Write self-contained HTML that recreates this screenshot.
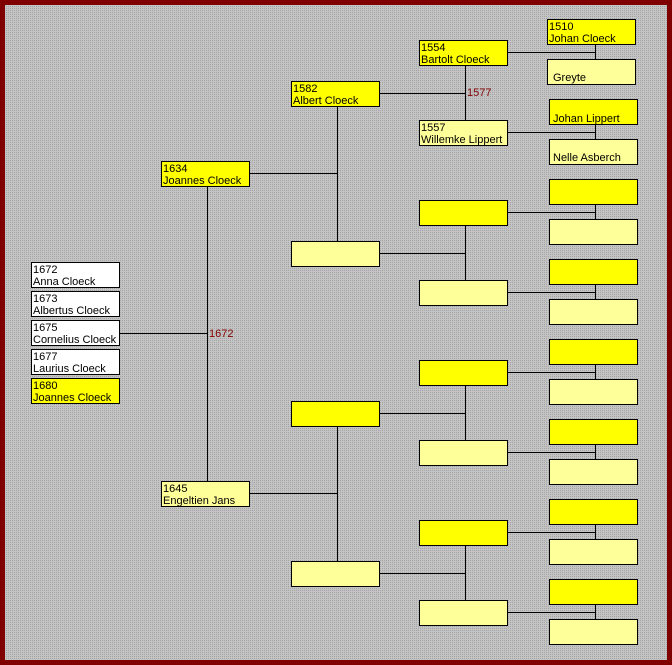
<!DOCTYPE html>
<html><head><meta charset="utf-8"><style>
html,body{margin:0;padding:0;}
body{width:672px;height:665px;overflow:hidden;}
svg{display:block;}
text{font-family:"Liberation Sans",Arial,sans-serif;font-size:11px;fill:#000;}
.r{fill:#800000;}
</style></head><body>
<svg width="672" height="665" viewBox="0 0 672 665" xmlns="http://www.w3.org/2000/svg">
<defs><pattern id="p" width="2" height="2" patternUnits="userSpaceOnUse"><rect width="2" height="2" fill="#c4c4c4"/><rect width="1" height="1" fill="#a4a4a4"/></pattern></defs>
<rect width="672" height="665" fill="#800000"/>
<rect x="5" y="5" width="662" height="655" fill="url(#p)"/>
<g stroke="#000" stroke-width="1" fill="none" shape-rendering="crispEdges">
<!-- col1-2 -->
<line x1="119" y1="333.5" x2="207.5" y2="333.5"/><line x1="207.5" y1="186" x2="207.5" y2="481"/>
<!-- col2-3 -->
<line x1="249" y1="173.5" x2="337.5" y2="173.5"/><line x1="337.5" y1="106" x2="337.5" y2="241"/>
<line x1="249" y1="493.5" x2="337.5" y2="493.5"/><line x1="337.5" y1="426" x2="337.5" y2="561"/>
<!-- col3-4 -->
<line x1="379" y1="93.5" x2="465.5" y2="93.5"/><line x1="465.5" y1="65" x2="465.5" y2="120"/>
<line x1="379" y1="253.5" x2="465.5" y2="253.5"/><line x1="465.5" y1="225" x2="465.5" y2="280"/>
<line x1="379" y1="413.5" x2="465.5" y2="413.5"/><line x1="465.5" y1="385" x2="465.5" y2="440"/>
<line x1="379" y1="573.5" x2="465.5" y2="573.5"/><line x1="465.5" y1="545" x2="465.5" y2="600"/>
<!-- col4-5 -->
<line x1="507" y1="52.5" x2="595.5" y2="52.5"/><line x1="595.5" y1="44" x2="595.5" y2="59"/>
<line x1="507" y1="132.5" x2="595.5" y2="132.5"/><line x1="595.5" y1="124" x2="595.5" y2="139"/>
<line x1="507" y1="212.5" x2="595.5" y2="212.5"/><line x1="595.5" y1="204" x2="595.5" y2="219"/>
<line x1="507" y1="292.5" x2="595.5" y2="292.5"/><line x1="595.5" y1="284" x2="595.5" y2="299"/>
<line x1="507" y1="372.5" x2="595.5" y2="372.5"/><line x1="595.5" y1="364" x2="595.5" y2="379"/>
<line x1="507" y1="452.5" x2="595.5" y2="452.5"/><line x1="595.5" y1="444" x2="595.5" y2="459"/>
<line x1="507" y1="532.5" x2="595.5" y2="532.5"/><line x1="595.5" y1="524" x2="595.5" y2="539"/>
<line x1="507" y1="612.5" x2="595.5" y2="612.5"/><line x1="595.5" y1="604" x2="595.5" y2="619"/>
</g>
<g stroke="#000" stroke-width="1" shape-rendering="crispEdges">
<!-- col1 -->
<rect x="31.5" y="262.5" width="88" height="25" fill="#fff"/>
<rect x="31.5" y="291.5" width="88" height="25" fill="#fff"/>
<rect x="31.5" y="320.5" width="88" height="25" fill="#fff"/>
<rect x="31.5" y="349.5" width="88" height="25" fill="#fff"/>
<rect x="31.5" y="378.5" width="88" height="25" fill="#ffff00"/>
<!-- col2 -->
<rect x="161.5" y="161.5" width="88" height="25" fill="#ffff00"/>
<rect x="161.5" y="481.5" width="88" height="25" fill="#ffff99"/>
<!-- col3 -->
<rect x="291.5" y="81.5" width="88" height="25" fill="#ffff00"/>
<rect x="291.5" y="241.5" width="88" height="25" fill="#ffff99"/>
<rect x="291.5" y="401.5" width="88" height="25" fill="#ffff00"/>
<rect x="291.5" y="561.5" width="88" height="25" fill="#ffff99"/>
<!-- col4 -->
<rect x="419.5" y="40.5" width="88" height="25" fill="#ffff00"/>
<rect x="419.5" y="120.5" width="88" height="25" fill="#ffff99"/>
<rect x="419.5" y="200.5" width="88" height="25" fill="#ffff00"/>
<rect x="419.5" y="280.5" width="88" height="25" fill="#ffff99"/>
<rect x="419.5" y="360.5" width="88" height="25" fill="#ffff00"/>
<rect x="419.5" y="440.5" width="88" height="25" fill="#ffff99"/>
<rect x="419.5" y="520.5" width="88" height="25" fill="#ffff00"/>
<rect x="419.5" y="600.5" width="88" height="25" fill="#ffff99"/>
<!-- col5 -->
<rect x="547.5" y="19.5" width="88" height="25" fill="#ffff00"/>
<rect x="547.5" y="59.5" width="88" height="25" fill="#ffff99"/>
<rect x="549.5" y="99.5" width="88" height="25" fill="#ffff00"/>
<rect x="549.5" y="139.5" width="88" height="25" fill="#ffff99"/>
<rect x="549.5" y="179.5" width="88" height="25" fill="#ffff00"/>
<rect x="549.5" y="219.5" width="88" height="25" fill="#ffff99"/>
<rect x="549.5" y="259.5" width="88" height="25" fill="#ffff00"/>
<rect x="549.5" y="299.5" width="88" height="25" fill="#ffff99"/>
<rect x="549.5" y="339.5" width="88" height="25" fill="#ffff00"/>
<rect x="549.5" y="379.5" width="88" height="25" fill="#ffff99"/>
<rect x="549.5" y="419.5" width="88" height="25" fill="#ffff00"/>
<rect x="549.5" y="459.5" width="88" height="25" fill="#ffff99"/>
<rect x="549.5" y="499.5" width="88" height="25" fill="#ffff00"/>
<rect x="549.5" y="539.5" width="88" height="25" fill="#ffff99"/>
<rect x="549.5" y="579.5" width="88" height="25" fill="#ffff00"/>
<rect x="549.5" y="619.5" width="88" height="25" fill="#ffff99"/>
</g>
<text x="33" y="273">1672</text><text x="33" y="285">Anna Cloeck</text>
<text x="33" y="302">1673</text><text x="33" y="314">Albertus Cloeck</text>
<text x="33" y="331">1675</text><text x="33" y="343">Cornelius Cloeck</text>
<text x="33" y="360">1677</text><text x="33" y="372">Laurius Cloeck</text>
<text x="33" y="389">1680</text><text x="33" y="401">Joannes Cloeck</text>
<text x="163" y="172">1634</text><text x="163" y="184">Joannes Cloeck</text>
<text x="163" y="492">1645</text><text x="163" y="504">Engeltien Jans</text>
<text x="293" y="92">1582</text><text x="293" y="104">Albert Cloeck</text>
<text x="421" y="51">1554</text><text x="421" y="63">Bartolt Cloeck</text>
<text x="421" y="131">1557</text><text x="421" y="143">Willemke Lippert</text>
<text x="549" y="30">1510</text><text x="549" y="42">Johan Cloeck</text>
<text x="553" y="81">Greyte</text>
<text x="553" y="122">Johan Lippert</text>
<text x="553" y="161">Nelle Asberch</text>
<text class="r" x="209" y="337">1672</text>
<text class="r" x="467" y="96">1577</text>
</svg>
</body></html>
